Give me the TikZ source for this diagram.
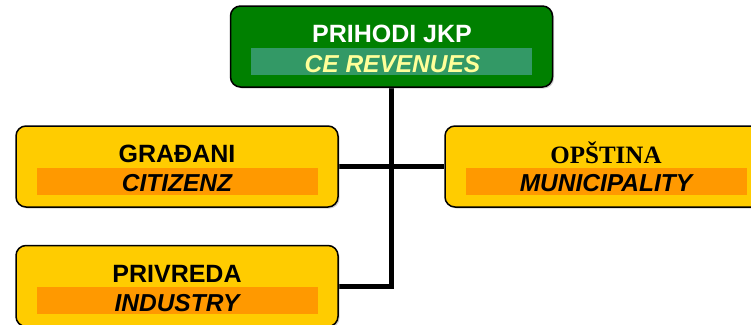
\documentclass[tikz,border=0pt]{standalone}
\usepackage{fontspec}
\setmainfont{Liberation Sans}
\newfontfamily\serifbox{Liberation Serif}
\usetikzlibrary{shadows}
\pgfdeclarelayer{bg}
\pgfsetlayers{bg,main}
\definecolor{boxgreen}{HTML}{008000}
\definecolor{bandgreen}{HTML}{339966}
\definecolor{boxyellow}{HTML}{FFCC00}
\definecolor{bandorange}{HTML}{FF9900}
\definecolor{paleyellow}{HTML}{FFFF99}
\tikzset{
  card/.style={draw=black, line width=1.5pt, rounded corners=10pt,
    minimum width=322pt, minimum height=81pt, inner sep=0pt,
    drop shadow={shadow xshift=1.5pt, shadow yshift=-1.5pt, fill=gray!70}},
  greencard/.style={card, fill=boxgreen},
  yellowcard/.style={card, fill=boxyellow},
  band/.style={minimum width=281pt, minimum height=27pt, inner sep=0pt},
  head/.style={font=\fontsize{25}{28}\selectfont\bfseries, inner sep=0pt, anchor=base},
  sub/.style={font=\fontsize{24.5}{28}\selectfont\bfseries\itshape, inner sep=0pt, anchor=base},
  conn/.style={draw=black, line width=5pt}
}
\begin{document}
\begin{tikzpicture}[x=1pt,y=-1pt]
\path[use as bounding box] (0,0) rectangle (751,324);
\clip (0,0) rectangle (751,324);
% boxes
\node[greencard] (top) at (391.5,46.5) {};
\node[yellowcard] (cit) at (177,166.5) {};
\node[yellowcard] (ops) at (606,166.5) {};
\node[yellowcard] (ind) at (177,286) {};
% connectors behind the boxes
\begin{pgfonlayer}{bg}
\draw[conn] (top.south) |- (ind.east);
\draw[conn] (cit.east) -- (ops.west);
\end{pgfonlayer}
% bands
\node[band, fill=bandgreen] (topband) at (391.5,61.5) {};
\node[band, fill=bandorange] (citband) at (177,181.5) {};
\node[band, fill=bandorange] (opsband) at (606.5,181.5) {};
\node[band, fill=bandorange] (indband) at (177,300.5) {};
% texts
\node[head, text=white] (t1) at (392,42) {PRIHODI JKP};
\node[sub, text=paleyellow] (t2) at (392.5,72) {CE REVENUES};
\node[head] (c1) at (177,162) {GRAĐANI};
\node[sub] (c2) at (177,191) {CITIZENZ};
\node[head, font=\fontsize{25}{28}\selectfont\serifbox\bfseries] (o1) at (606,163) {OPŠTINA};
\node[sub] (o2) at (606,191) {MUNICIPALITY};
\node[head] (i1) at (177,282) {PRIVREDA};
\node[sub] (i2) at (177,311) {INDUSTRY};
\end{tikzpicture}
\end{document}
